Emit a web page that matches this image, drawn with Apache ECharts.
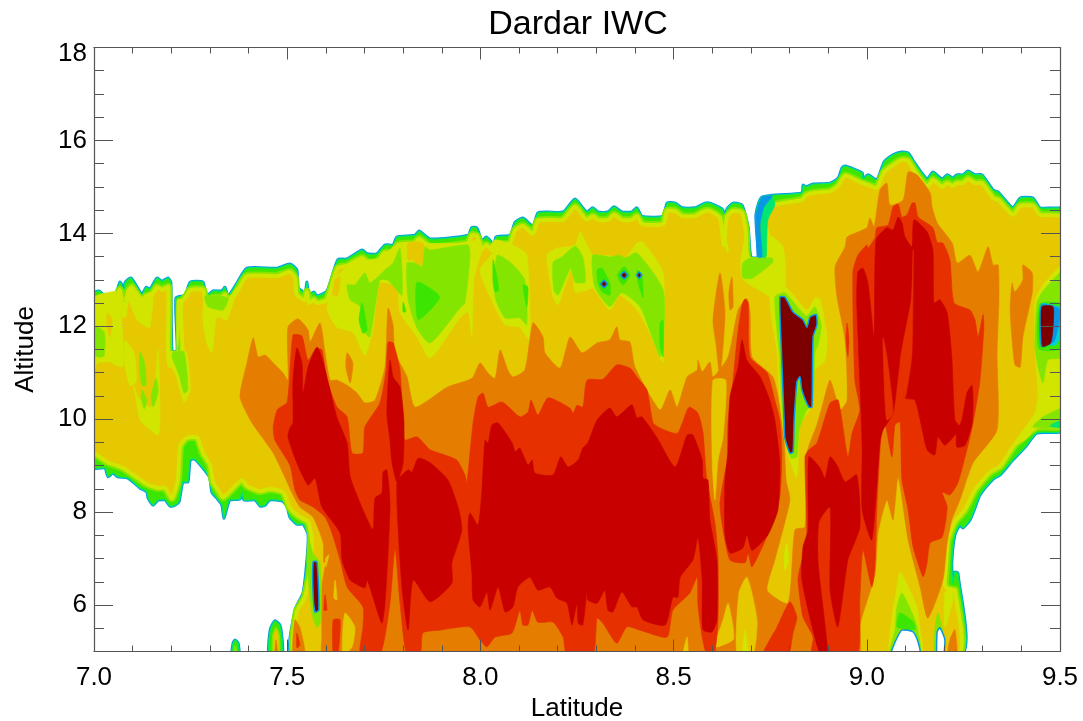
<!DOCTYPE html>
<html>
<head>
<meta charset="utf-8">
<title>Dardar IWC</title>
<script src="https://cdn.jsdelivr.net/npm/echarts@6/dist/echarts.min.js"></script>
<style>html,body{margin:0;padding:0;background:#fff}#c{width:1083px;height:721px;filter:blur(0.45px)}</style>
</head>
<body>
<div id="c"></div>
<script>
// Axis values
const xMajor = [7.0, 7.5, 8.0, 8.5, 9.0, 9.5];
const xMinor = [7.1,7.2,7.3,7.4,7.6,7.7,7.8,7.9,8.1,8.2,8.3,8.4,8.6,8.7,8.8,8.9,9.1,9.2,9.3,9.4];
const yMajor = [6, 8, 10, 12, 14, 16, 18];
const yMinor = [5.5,6.5,7,7.5,8.5,9,9.5,10.5,11,11.5,12.5,13,13.5,14.5,15,15.5,16.5,17,17.5];

// Contour regions as [latitude, altitude] outlines
const cloudEnvelope = [
[[6.99,12.67],[7.013,12.76],[7.028,12.65],[7.054,12.65],[7.067,12.95],[7.072,12.89],[7.075,12.37],[7.08,12.93],[7.096,13.04],[7.124,12.69],[7.135,12.84],[7.145,12.8],[7.163,13.04],[7.176,12.97],[7.192,13.04],[7.199,12.93],[7.202,11.47],[7.215,11.47],[7.212,12.61],[7.236,12.67],[7.249,12.95],[7.282,12.95],[7.29,12.65],[7.308,12.76],[7.331,12.76],[7.339,12.84],[7.347,12.65],[7.37,12.93],[7.396,13.25],[7.474,13.25],[7.507,13.34],[7.525,13.21],[7.528,12.84],[7.546,12.72],[7.551,12.95],[7.556,12.67],[7.569,12.74],[7.577,12.65],[7.603,12.76],[7.631,13.43],[7.655,13.45],[7.694,13.64],[7.707,13.56],[7.732,13.56],[7.753,13.75],[7.774,13.75],[7.784,13.92],[7.831,13.96],[7.841,14.05],[7.87,13.88],[7.968,13.96],[7.978,14.13],[7.991,14.11],[8.004,13.84],[8.015,13.92],[8.03,13.79],[8.035,13.58],[8.04,13.92],[8.077,13.96],[8.09,14.24],[8.11,14.33],[8.136,14.16],[8.149,14.44],[8.175,14.46],[8.214,14.46],[8.245,14.74],[8.265,14.55],[8.276,14.46],[8.291,14.55],[8.304,14.46],[8.33,14.46],[8.346,14.57],[8.366,14.46],[8.392,14.46],[8.405,14.55],[8.418,14.37],[8.473,14.37],[8.483,14.65],[8.504,14.65],[8.522,14.55],[8.555,14.55],[8.581,14.65],[8.594,14.65],[8.628,14.5],[8.63,14.07],[8.638,14.52],[8.654,14.65],[8.677,14.61],[8.693,14.13],[8.7,13.49],[8.718,13.49],[8.713,14.4],[8.729,14.78],[8.832,14.87],[8.835,15.04],[8.843,15],[8.861,15.06],[8.905,15.08],[8.926,15.19],[8.936,15.41],[8.944,15.45],[8.988,15.3],[8.99,15.17],[9.003,15.26],[9.026,15.15],[9.045,15.54],[9.068,15.69],[9.091,15.75],[9.107,15.73],[9.122,15.54],[9.156,15.17],[9.171,15.32],[9.195,15.17],[9.208,15.26],[9.223,15.19],[9.233,15.26],[9.249,15.26],[9.262,15.34],[9.28,15.26],[9.298,15.26],[9.327,14.93],[9.34,14.89],[9.378,14.55],[9.397,14.76],[9.43,14.76],[9.448,14.55],[9.51,14.5],[9.51,9.77],[9.44,9.7],[9.41,9.4],[9.378,9.12],[9.345,8.8],[9.327,8.71],[9.293,8.37],[9.28,8.09],[9.267,7.83],[9.249,7.66],[9.241,7.72],[9.228,7.51],[9.22,6.9],[9.223,6.47],[9.228,6.71],[9.236,6.69],[9.241,4.92],[7.515,4.92],[7.52,5.89],[7.541,6.26],[7.551,6.97],[7.554,7.51],[7.541,7.74],[7.525,7.74],[7.507,7.89],[7.5,8.11],[7.487,8.24],[7.455,8.26],[7.443,8.15],[7.43,8.13],[7.417,8.26],[7.388,8.26],[7.383,8.43],[7.378,8.28],[7.352,8.26],[7.344,8.09],[7.336,7.87],[7.331,8.15],[7.318,8.3],[7.305,8.43],[7.3,8.73],[7.292,8.84],[7.261,9.14],[7.249,9.12],[7.243,8.65],[7.23,8.65],[7.22,8.22],[7.21,8.15],[7.197,8.13],[7.184,8.26],[7.166,8.26],[7.153,8.15],[7.14,8.3],[7.137,8.43],[7.119,8.52],[7.088,8.73],[7.062,8.76],[7.049,8.84],[7.036,8.76],[7.028,8.95],[6.99,8.95]],
[[7.453,4.92],[7.456,5.47],[7.468,5.66],[7.481,5.57],[7.487,5.25],[7.487,4.92]],
[[7.357,4.92],[7.36,5.18],[7.365,5.25],[7.373,5.18],[7.375,4.92]]
];
const yellowCore = [
[[6.99,12.52],[7.028,12.5],[7.054,12.52],[7.067,12.78],[7.078,12.22],[7.088,12.74],[7.098,12.84],[7.124,12.52],[7.135,12.65],[7.145,12.61],[7.163,12.84],[7.176,12.78],[7.192,12.84],[7.194,11.17],[7.228,11.17],[7.225,12.48],[7.241,12.67],[7.249,12.78],[7.282,12.78],[7.29,12.46],[7.308,12.61],[7.331,12.61],[7.339,12.67],[7.347,12.48],[7.37,12.74],[7.396,13.08],[7.474,13.08],[7.507,13.17],[7.52,13.04],[7.525,12.67],[7.546,12.57],[7.551,12.74],[7.556,12.5],[7.569,12.57],[7.577,12.5],[7.603,12.57],[7.631,13.25],[7.655,13.3],[7.694,13.47],[7.707,13.38],[7.732,13.38],[7.753,13.58],[7.774,13.58],[7.787,13.75],[7.831,13.79],[7.841,13.88],[7.87,13.71],[7.968,13.79],[7.978,13.96],[7.991,13.94],[8.004,13.66],[8.015,13.75],[8.033,13.62],[8.043,13.75],[8.077,13.79],[8.09,14.07],[8.11,14.16],[8.136,13.99],[8.149,14.27],[8.175,14.29],[8.214,14.29],[8.245,14.57],[8.265,14.37],[8.276,14.29],[8.291,14.37],[8.304,14.29],[8.33,14.29],[8.346,14.4],[8.366,14.29],[8.392,14.29],[8.405,14.37],[8.418,14.2],[8.473,14.2],[8.483,14.48],[8.504,14.48],[8.522,14.37],[8.555,14.37],[8.581,14.48],[8.594,14.48],[8.62,14.33],[8.63,13.75],[8.638,14.35],[8.654,14.48],[8.677,14.44],[8.687,14.03],[8.693,13.38],[8.744,13.38],[8.744,13.96],[8.734,14.4],[8.762,14.61],[8.832,14.72],[8.843,14.82],[8.861,14.87],[8.905,14.91],[8.926,15.02],[8.944,15.24],[8.988,15.08],[9.003,15.04],[9.026,14.98],[9.045,15.32],[9.068,15.47],[9.091,15.58],[9.107,15.56],[9.122,15.36],[9.156,15],[9.171,15.15],[9.195,15],[9.208,15.08],[9.223,15.02],[9.233,15.08],[9.249,15.08],[9.262,15.17],[9.28,15.08],[9.298,15.08],[9.327,14.76],[9.34,14.72],[9.378,14.4],[9.397,14.59],[9.43,14.59],[9.448,14.4],[9.51,14.33],[9.51,9.88],[9.44,9.83],[9.383,9.45],[9.345,8.99],[9.319,8.86],[9.28,8.48],[9.254,8.05],[9.228,7.79],[9.21,7.4],[9.205,6.86],[9.202,6.43],[9.215,6.32],[9.228,6.32],[9.233,4.92],[7.525,4.92],[7.525,5.85],[7.546,6.17],[7.562,6.86],[7.564,7.4],[7.554,7.79],[7.528,7.92],[7.507,8.09],[7.489,8.43],[7.455,8.5],[7.43,8.45],[7.396,8.56],[7.383,8.69],[7.36,8.52],[7.334,8.32],[7.321,8.48],[7.308,8.65],[7.3,9.02],[7.282,9.27],[7.267,9.6],[7.241,9.6],[7.223,9.42],[7.217,8.69],[7.202,8.3],[7.184,8.52],[7.166,8.52],[7.137,8.6],[7.114,8.73],[7.075,8.95],[7.034,9.08],[6.997,9.29],[6.99,9.29]]
];
const smallLobesYellow = [
[[7.463,4.92],[7.463,5.36],[7.471,5.51],[7.479,5.36],[7.479,4.92]],
[[7.362,4.92],[7.365,5.12],[7.37,4.92]]
];
const limeZones = [
[[6.99,12.57],[7.062,12.74],[7.072,12.14],[7.075,11.13],[7.054,11.17],[7.041,11.23],[7.01,11.21],[6.99,10.91]],
[[7.075,12.57],[7.101,12.84],[7.124,12.63],[7.145,12.74],[7.153,12.63],[7.145,11.98],[7.137,11.98],[7.111,12.14],[7.085,12.63]],
[[7.08,11.7],[7.104,11.42],[7.109,10.8],[7.093,10.73],[7.08,11.17]],
[[7.098,10.84],[7.114,10.48],[7.15,10.26],[7.166,11.49],[7.171,9.98],[7.166,9.66],[7.14,9.81],[7.119,9.98],[7.106,10.56]],
[[7.197,11.45],[7.238,11.45],[7.249,10.63],[7.233,10.37],[7.212,10.95],[7.194,11.27]],
[[7.215,12.57],[7.228,12.57],[7.215,11.45]],
[[7.287,12.61],[7.347,12.61],[7.37,12.84],[7.344,12.14],[7.318,12.2],[7.305,11.43],[7.292,11.64],[7.282,12.14]],
[[7.603,12.39],[7.631,13.1],[7.675,13.38],[7.74,13.47],[7.784,13.75],[7.968,13.79],[7.991,13.86],[8.004,13.64],[7.994,13.38],[7.983,13],[7.978,11.77],[7.968,12.31],[7.947,12.18],[7.87,11.32],[7.836,11.77],[7.792,12.29],[7.784,12.84],[7.74,12.93],[7.722,11.92],[7.701,11.38],[7.67,11.87],[7.629,11.98]],
[[8.025,13.71],[8.038,13.86],[8.084,13.75],[8.12,13.53],[8.128,11.7],[8.102,11.98],[8.064,12.03],[8.025,12.63],[7.999,13.21],[8.033,13.6]],
[[8.172,13.53],[8.198,13.68],[8.245,13.75],[8.258,14.03],[8.291,13.53],[8.328,13.53],[8.374,13.47],[8.405,13.79],[8.421,13.81],[8.473,13.15],[8.473,11.23],[8.465,11.32],[8.431,11.98],[8.405,12.35],[8.361,12.67],[8.335,12.35],[8.291,12.82],[8.276,12.78],[8.245,12.74],[8.237,13.25],[8.201,12.46],[8.188,12.63]],
[[8.628,14.07],[8.643,13.64],[8.638,13.6]],
[[8.685,13.86],[8.698,13.49],[8.749,13.53],[8.747,13.96],[8.783,13.71],[8.788,12.85],[8.755,12.63],[8.729,12.74],[8.698,12.89],[8.677,13.04],[8.674,13.43]]
];
const yellowInLime = [
[[7.034,12.29],[7.047,12.14],[7.041,11.77],[7.034,11.98]],
[[7.624,13],[7.637,13.06],[7.631,12.67],[7.618,12.67]],
[[7.813,13.79],[7.851,13.79],[7.854,13.43],[7.841,13.28],[7.826,13.43],[7.813,13.43]]
];
const greenZones = [
[[6.99,12.03],[7.026,11.88],[7.026,11.36],[7.01,11.34],[6.99,11.49]],
[[7.119,11.45],[7.13,11.24],[7.135,10.73],[7.124,10.73],[7.117,11.13]],
[[7.124,10.63],[7.137,10.41],[7.13,10.22],[7.122,10.45]],
[[7.161,10.88],[7.166,10.58],[7.153,10.26],[7.148,10.5]],
[[7.205,11.45],[7.233,11.45],[7.243,10.63],[7.233,10.56],[7.22,10.95],[7.202,11.34]],
[[7.287,12.65],[7.347,12.61],[7.334,12.35],[7.295,12.42]],
[[7.655,12.89],[7.675,12.89],[7.701,13.15],[7.714,12.93],[7.753,13.21],[7.774,13.36],[7.792,13.68],[7.797,12.67],[7.761,12.99],[7.74,12.99],[7.714,11.77],[7.696,11.92],[7.689,12.42],[7.663,12.57]],
[[7.81,13.36],[7.831,13.36],[7.849,13.28],[7.857,13.71],[7.87,13.64],[7.968,13.75],[7.973,13.49],[7.96,12.5],[7.947,12.39],[7.87,11.64],[7.836,11.96],[7.813,12.57]],
[[8.043,13.53],[8.077,13.38],[8.115,13],[8.12,12.03],[8.102,12.18],[8.064,12.18],[8.038,12.63]],
[[8.188,13.38],[8.211,13.49],[8.245,13.73],[8.265,13.49],[8.271,12.95],[8.245,12.95],[8.234,13.25],[8.201,12.67],[8.19,12.78]],
[[8.291,13.53],[8.335,13.49],[8.361,13.53],[8.374,13.47],[8.405,13.58],[8.473,12.78],[8.473,11.56],[8.465,11.34],[8.447,11.71],[8.413,12.42],[8.366,12.72],[8.335,12.42],[8.296,12.85]],
[[8.698,13.47],[8.755,13.47],[8.757,13.38],[8.705,13.04],[8.679,13.04],[8.679,13.36]]
];
const brightZones = [
[[7.694,12.5],[7.707,11.92],[7.696,11.85],[7.686,12.14]],
[[7.836,12.95],[7.895,12.63],[7.839,12.14]],
[[7.8,12.52],[7.807,12.31],[7.8,12.31]],
[[8.11,12.89],[8.123,12.85],[8.12,12.42]],
[[8.033,13.43],[8.048,12.78],[8.038,12.74],[8.033,12.93]],
[[8.302,13.21],[8.315,13.25],[8.335,12.93],[8.335,12.67],[8.315,12.74],[8.304,12.93]],
[[8.354,13.1],[8.372,13.28],[8.387,13.1],[8.369,12.89]],
[[8.405,13.21],[8.418,13.1],[8.421,12.61],[8.408,12.93]],
[[8.465,12.07],[8.473,12.14],[8.473,11.34],[8.465,11.56]]
];
const notchSpring = [[[8.729,14.78],[8.755,14.8],[8.762,14.61],[8.744,14.29],[8.739,13.49],[8.729,13.49]]];
const notchBlue = [[[8.729,14.78],[8.755,14.8],[8.734,14.57],[8.724,14.18],[8.729,13.49],[8.718,13.49],[8.713,14.4]]];
const orangeMain = [
[[7.412,11.75],[7.425,11.34],[7.443,11.38],[7.464,11.21],[7.489,11],[7.502,10.84],[7.502,11.98],[7.528,12.16],[7.554,11.92],[7.559,11.66],[7.585,12.07],[7.598,11.43],[7.611,10.84],[7.629,10.84],[7.655,10.73],[7.681,10.56],[7.701,10.35],[7.727,10.41],[7.753,11.12],[7.761,12.39],[7.774,12.03],[7.779,11.43],[7.81,10.91],[7.831,10.26],[7.914,10.69],[7.978,10.88],[7.999,11.21],[8.02,10.99],[8.038,10.88],[8.051,11.49],[8.071,11.06],[8.084,10.91],[8.115,11.06],[8.136,12.07],[8.162,11.77],[8.167,11.43],[8.206,11.1],[8.232,11.77],[8.263,11.43],[8.302,11.64],[8.335,11.71],[8.353,11.99],[8.361,11.71],[8.387,11.66],[8.4,11.12],[8.465,10.2],[8.491,10.63],[8.509,10.26],[8.535,10.91],[8.561,11.06],[8.563,11.27],[8.574,11.02],[8.594,11.23],[8.602,10.91],[8.641,11.34],[8.667,12.35],[8.69,12.59],[8.698,12.29],[8.703,11.34],[8.757,10.91],[8.775,10.26],[8.786,9.55],[8.791,8.69],[8.801,8.26],[8.762,6.97],[8.742,6.32],[8.796,6.04],[8.814,7.62],[8.84,7.68],[8.845,9.27],[8.871,9.88],[8.887,10.35],[8.905,10.84],[8.931,10.2],[8.949,10.41],[8.944,11.7],[8.923,12.63],[8.918,13.28],[8.944,13.71],[8.949,13.92],[9,14.12],[9.008,14.33],[9.019,14.14],[9.034,14.93],[9.052,15.08],[9.06,14.61],[9.094,14.72],[9.107,15.32],[9.13,15.26],[9.164,14.87],[9.169,14.57],[9.182,14.23],[9.221,13.79],[9.234,13.36],[9.267,13.53],[9.288,13.17],[9.314,13.71],[9.327,13.32],[9.34,13.32],[9.342,12.57],[9.337,11.43],[9.337,9.77],[9.275,9.06],[9.241,8.26],[9.22,7.83],[9.208,7.34],[9.197,6.54],[9.158,5.72],[9.138,6.39],[9.107,7.4],[9.081,8.76],[9.068,7.83],[9.052,8.26],[9.029,7.55],[9.021,6.65],[8.982,5.57],[8.977,4.92],[7.593,4.92],[7.59,5.31],[7.59,6.39],[7.598,6.82],[7.606,7.03],[7.595,6.91],[7.593,7.34],[7.567,7.89],[7.533,8.11],[7.515,8.37],[7.464,9.27],[7.409,9.92],[7.378,10.48],[7.396,11.21]]
];
const orangePatches = [
[[8.62,13.15],[8.602,12.14],[8.61,11.6],[8.62,10.91],[8.633,12.29]],
[[8.651,13.06],[8.654,12.42],[8.646,12.35],[8.643,12.72]],
[[9.376,12.93],[9.383,12.74],[9.404,13],[9.404,13.32],[9.428,13.15],[9.428,12.72],[9.404,11.77],[9.397,11.12],[9.383,11.17],[9.371,12.35]],
[[7.655,11.43],[7.67,11.21],[7.663,10.78],[7.652,11.12]],
[[7.52,5.68],[7.533,5.51],[7.546,4.92],[7.515,4.92]],
[[7.468,4.92],[7.471,5.25],[7.476,4.92]],
[[9.215,5.25],[9.228,5.47],[9.233,4.92],[9.21,4.92]]
];
const yellowInOrange = [
[[8.602,10.84],[8.635,10.84],[8.628,9.62],[8.615,9.12],[8.607,8.26],[8.6,9.06]],
[[8.641,6.04],[8.654,5.53],[8.654,5.25],[8.607,5.1],[8.628,5.68]],
[[8.69,6.6],[8.716,5.68],[8.705,4.92],[8.664,4.92],[8.669,6.26]],
[[8.535,5.31],[8.537,4.92],[8.524,4.92]],
[[7.624,6.54],[7.629,6.11],[7.621,6.15]],
[[7.65,5.83],[7.675,5.53],[7.668,5.1],[7.644,4.92],[7.644,5.46]],
[[7.722,5.62],[7.735,5.31],[7.714,5.1]],
[[7.6,7.01],[7.608,7.08],[7.6,6.82]]
];
const limeLower = [
[[8.685,5.47],[8.693,4.92],[8.679,4.92]],
[[8.793,7.34],[8.798,6.97],[8.788,6.76],[8.786,7.04]],
[[9.06,4.92],[9.065,5.74],[9.078,6.39],[9.086,6.71],[9.107,6.39],[9.13,5.96],[9.138,5.47],[9.143,4.92]],
[[9.202,6.26],[9.22,6.39],[9.223,6.11],[9.202,5.53]]
];
const greenLower = [
[[9.06,4.92],[9.073,5.46],[9.078,5.96],[9.091,6.26],[9.117,5.83],[9.13,5.53],[9.138,4.92]],
[[9.176,5.47],[9.184,5.83],[9.202,5.25],[9.197,4.92],[9.176,4.92]]
];
const brightLower = [[[9.078,5.53],[9.086,5.83],[9.12,5.64],[9.125,5.47]]];
const redOrangeZones = [
[[7.515,11.81],[7.538,11.79],[7.554,11.27],[7.575,11.53],[7.59,11.49],[7.603,10.84],[7.629,10.26],[7.655,10.05],[7.668,9.27],[7.696,9.27],[7.701,9.83],[7.74,10.35],[7.756,11.06],[7.761,11.66],[7.774,11.64],[7.792,11.06],[7.8,9.77],[7.805,9.55],[7.836,9.62],[7.87,9.34],[7.908,9.23],[7.939,9.12],[7.96,8.8],[7.965,8.63],[7.981,9.92],[7.994,10.48],[8.007,10.56],[8.02,10.26],[8.056,10.37],[8.102,10.05],[8.123,10.15],[8.131,10.41],[8.149,10.09],[8.175,10.46],[8.232,10.24],[8.24,10.13],[8.25,10.3],[8.265,10.26],[8.276,10.84],[8.317,10.86],[8.353,11.17],[8.387,11.1],[8.405,10.91],[8.431,10.63],[8.447,9.92],[8.465,9.81],[8.491,9.72],[8.511,9.7],[8.535,10.2],[8.542,10.26],[8.563,10.13],[8.576,9.72],[8.586,8.69],[8.607,7.77],[8.615,6.97],[8.615,5.68],[8.605,4.92],[8.586,4.92],[8.574,5.31],[8.563,6],[8.561,6.6],[8.542,6.26],[8.498,5.89],[8.483,5.31],[8.413,5.46],[8.379,5.53],[8.353,5.18],[8.317,5.61],[8.302,5.72],[8.291,4.92],[8.224,4.92],[8.214,5.31],[8.188,5.63],[8.149,5.63],[8.134,5.89],[8.123,5.57],[8.11,5.57],[8.102,5.89],[8.082,5.4],[8.038,5.31],[8.017,5.1],[7.999,5.25],[7.973,5.53],[7.895,5.46],[7.851,5.4],[7.844,4.92],[7.81,4.92],[7.792,6.04],[7.779,7.23],[7.766,6.04],[7.74,4.92],[7.689,4.92],[7.696,5.53],[7.696,5.96],[7.655,6.39],[7.637,6.97],[7.616,7.55],[7.598,7.89],[7.567,8.11],[7.533,8.26],[7.52,8.48],[7.507,9.01],[7.468,9.55],[7.464,9.83],[7.474,10.2],[7.5,10.37]],
[[8.641,9.98],[8.654,10.84],[8.664,11.71],[8.677,12.46],[8.685,12.59],[8.693,12.5],[8.698,11.34],[8.742,11],[8.762,10.41],[8.775,9.98],[8.78,9.27],[8.775,8.33],[8.749,7.62],[8.703,6.82],[8.693,7.12],[8.685,6.91],[8.646,6.97],[8.625,7.77],[8.62,8.2],[8.638,9.12]],
[[8.964,13.17],[8.977,13.53],[9,13.75],[9.003,13.68],[9.021,13.9],[9.026,14.12],[9.055,14.18],[9.068,14.57],[9.081,14.63],[9.091,14.35],[9.104,14.4],[9.117,14.65],[9.125,14.65],[9.133,14.35],[9.171,14.12],[9.182,13.81],[9.197,13.79],[9.215,13.43],[9.226,12.5],[9.267,12.35],[9.28,12.14],[9.288,11.77],[9.301,12.25],[9.303,11.98],[9.293,10.84],[9.275,9.92],[9.259,9.34],[9.236,8.63],[9.215,8.37],[9.195,8.43],[9.208,8.11],[9.195,7.46],[9.164,7.34],[9.156,6.91],[9.146,6.61],[9.12,7.25],[9.107,8.05],[9.091,8.69],[9.086,9.94],[9.073,9.88],[9.065,9.19],[9.042,10.09],[9.026,8.05],[9.021,6.82],[9.013,6.39],[8.99,7.18],[8.982,6.11],[8.974,4.92],[8.858,4.92],[8.861,5.31],[8.835,5.74],[8.822,6.54],[8.83,6.9],[8.845,7.25],[8.84,9.19],[8.85,9.34],[8.871,9.49],[8.905,10.35],[8.926,10.41],[8.951,9.19],[8.962,9.7],[8.982,10.2],[8.969,10.84]],
[[8.731,4.92],[8.768,5.53],[8.801,6.07],[8.819,5.74],[8.809,5.4],[8.796,4.92]],
[[7.525,5.4],[7.533,5.14],[7.525,5.08]],
[[7.619,5.68],[7.637,5.68],[7.631,4.92],[7.619,4.92]],
[[7.598,6.22],[7.603,5.89],[7.595,5.89]],
[[8.949,12.07],[8.954,11.71],[8.951,11.34],[8.946,11.71]]
];
const redZones = [
[[7.515,9.92],[7.515,10.84],[7.525,11.53],[7.538,11.21],[7.541,10.56],[7.554,11.12],[7.577,11.55],[7.59,11.32],[7.611,10.63],[7.629,10.03],[7.655,9.49],[7.663,8.76],[7.696,8.05],[7.722,7.62],[7.727,8.3],[7.745,8.41],[7.748,8.86],[7.758,8.91],[7.766,8.2],[7.761,7.12],[7.753,6.04],[7.745,5.61],[7.722,6.17],[7.707,6.54],[7.701,6.37],[7.663,6.54],[7.642,6.97],[7.637,7.55],[7.59,8.11],[7.572,8.73],[7.554,8.58],[7.525,9.06],[7.502,9.62],[7.507,9.81]],
[[7.758,10.13],[7.766,11.27],[7.774,10.91],[7.792,10.69],[7.802,9.98],[7.8,9.06],[7.784,8.65],[7.771,9.08],[7.766,9.55]],
[[7.784,8.65],[7.813,8.91],[7.823,8.86],[7.839,9.16],[7.87,9.06],[7.916,8.69],[7.942,8.11],[7.952,7.62],[7.926,6.9],[7.926,6.47],[7.87,6.07],[7.826,6.54],[7.813,5.46],[7.797,6.39]],
[[7.973,7.98],[7.994,7.72],[8.004,8.47],[8.012,9.55],[8.02,9.49],[8.03,9.88],[8.046,9.92],[8.082,9.49],[8.09,9.3],[8.102,9.38],[8.123,9.01],[8.134,9.12],[8.141,8.84],[8.188,8.8],[8.208,9.19],[8.227,8.97],[8.253,9.12],[8.265,9.38],[8.278,9.49],[8.302,9.98],[8.335,10.24],[8.353,10.05],[8.392,10.31],[8.405,10.03],[8.418,10.05],[8.457,9.6],[8.504,8.97],[8.535,9.66],[8.55,9.66],[8.574,9.12],[8.576,8.73],[8.589,8.69],[8.594,7.83],[8.612,6.97],[8.612,5.68],[8.599,5.42],[8.576,5.47],[8.574,6.54],[8.563,7.46],[8.55,6.97],[8.517,6.6],[8.511,6.17],[8.498,6.17],[8.478,5.57],[8.421,5.68],[8.405,5.96],[8.392,5.96],[8.366,6.28],[8.343,5.85],[8.33,5.89],[8.322,6.32],[8.302,6.04],[8.278,6.11],[8.276,6.32],[8.265,5.57],[8.253,5.61],[8.25,6.04],[8.237,5.57],[8.224,6.04],[8.198,6.15],[8.18,6.39],[8.149,6.32],[8.128,6.6],[8.097,6.39],[8.084,5.96],[8.064,5.85],[8.046,6.39],[8.025,5.89],[8.017,6.28],[7.999,5.96],[7.981,6.11],[7.978,6.69],[7.968,7.68]],
[[8.646,10.48],[8.667,11.12],[8.677,11.71],[8.69,11.27],[8.724,10.91],[8.749,10.41],[8.762,9.98],[8.775,9.06],[8.77,8.05],[8.744,7.51],[8.703,7.18],[8.69,7.51],[8.679,7.23],[8.646,7.12],[8.633,7.51],[8.633,8.69],[8.641,9.27]],
[[8.977,13.17],[8.99,13.25],[9.003,12.93],[9.019,11.77],[9.024,13.86],[9.052,14.12],[9.068,14.07],[9.081,14.35],[9.091,14.23],[9.099,13.92],[9.117,13.71],[9.122,14.29],[9.156,14.03],[9.171,13.64],[9.174,12.5],[9.189,12.57],[9.208,12.29],[9.22,11.34],[9.228,9.98],[9.241,9.81],[9.202,9.44],[9.184,9.62],[9.176,9.23],[9.156,9.34],[9.125,10.41],[9.099,10.46],[9.086,11.21],[9.068,10.13],[9.042,9.77],[9.034,9.49],[9.013,7.4],[8.988,8.05],[8.988,9.4],[8.982,10.84],[8.974,12.57]],
[[9.259,10.56],[9.272,10.73],[9.275,10.35],[9.272,9.88],[9.254,9.44],[9.233,9.4],[9.233,9.72],[9.246,9.98]],
[[8.85,9.19],[8.879,8.95],[8.892,8.73],[8.905,9.19],[8.923,9.01],[8.944,8.65],[8.974,8.8],[8.982,7.68],[8.951,6.97],[8.925,5.53],[8.905,6.32],[8.905,8.11],[8.876,7.79],[8.874,6.9],[8.899,4.92],[8.879,4.92],[8.832,6.54],[8.835,7.25],[8.848,7.62]]
];
const redOrangeWedges = [
[[9.042,11.75],[9.052,11.34],[9.068,10.13],[9.052,9.98],[9.047,10.41]],
[[9.086,11.21],[9.099,10.46],[9.117,11.43],[9.12,13.64],[9.115,12.57]]
];
const limeEast = [
[[8.749,12.63],[8.788,12.85],[8.845,12.35],[8.866,12.61],[8.879,12.57],[8.897,11.77],[8.892,11.27],[8.861,11],[8.861,10.35],[8.848,10.14],[8.827,9.88],[8.819,8.76],[8.796,9.23],[8.786,9.62],[8.775,10.41],[8.768,11.43]],
[[9.51,13.32],[9.466,13],[9.443,12.72],[9.435,12.5],[9.435,11.56],[9.44,10.91],[9.443,10.56],[9.435,10.13],[9.378,9.45],[9.41,9.55],[9.44,9.81],[9.51,9.86]]
];
const greenEast = [
[[8.762,12.63],[8.788,12.72],[8.843,12.22],[8.866,12.42],[8.882,12.03],[8.874,11.6],[8.866,11.45],[8.861,10.3],[8.845,10.2],[8.825,9.77],[8.819,9.19],[8.804,9.16],[8.788,9.55],[8.78,10.3],[8.773,11.43]],
[[9.474,12.93],[9.51,13.21],[9.51,11.34],[9.469,11.28],[9.456,10.78],[9.443,11.13],[9.435,11.56],[9.44,12.5],[9.453,12.72]],
[[9.51,10.24],[9.456,10.05],[9.43,9.83],[9.51,9.84]],
[[7.554,7.47],[7.567,7.12],[7.585,6.9],[7.587,5.68],[7.577,5.51],[7.564,5.83],[7.551,6.9]]
];
const brightEast = [[[9.448,12.48],[9.51,12.46],[9.51,11.54],[9.446,11.51]]];
const springEast = [[[9.51,9.99],[9.474,9.86],[9.51,9.81]]];
const cyanEast = [[[9.451,12.48],[9.497,12.42],[9.51,12.4],[9.51,11.92],[9.489,11.6],[9.474,11.6]]];
const blueEast = [
[[9.451,12.46],[9.497,12.38],[9.497,12.07],[9.484,11.67],[9.451,11.56]],
[[8.31,12.91],[8.32,13],[8.33,12.91],[8.32,12.82]],
[[8.362,13.1],[8.372,13.19],[8.382,13.1],[8.372,13.01]],
[[8.403,13.1],[8.411,13.18],[8.419,13.1],[8.411,13.02]]
];
const darkZones = [
[[9.453,12.42],[9.482,12.42],[9.482,11.98],[9.476,11.64],[9.456,11.56],[9.453,11.64]],
[[8.315,12.91],[8.32,12.96],[8.325,12.91],[8.32,12.86]],
[[8.367,13.1],[8.372,13.15],[8.377,13.1],[8.372,13.05]],
[[8.408,13.1],[8.411,13.14],[8.414,13.1],[8.411,13.06]]
];
const darkCores = [
[[8.775,12.63],[8.788,12.63],[8.809,12.31],[8.835,12.14],[8.845,11.98],[8.853,12.2],[8.869,12.25],[8.871,12.03],[8.861,11.77],[8.858,10.26],[8.85,10.26],[8.832,10.63],[8.827,10.91],[8.819,10.8],[8.812,9.98],[8.809,9.29],[8.801,9.27],[8.788,9.59],[8.786,9.98],[8.78,11.27]],
[[7.567,6.93],[7.577,6.93],[7.582,5.89],[7.572,5.85],[7.567,6.26]]
];
const clearHoles = [
[[9.06,4.86],[9.065,5.03],[9.078,5.29],[9.091,5.46],[9.12,5.42],[9.133,5.2],[9.138,4.86]],
[[9.182,4.86],[9.182,5.42],[9.189,5.51],[9.202,5.25],[9.197,4.86]]
];

const YELLOW='#e5c800', LIME='#d2e500', GREEN='#84e600', BRIGHT='#3ce600', SPRING='#00e673',
      CYAN='#00d0d8', BLUE='#0a96e6', ORANGE='#e57e00', REDORANGE='#e63000', RED='#c80000', DARK='#7d0000';

const layers = [
  {polys: cloudEnvelope, fill: BLUE, stroke: BLUE, width: 3},
  {polys: cloudEnvelope, fill: BRIGHT, stroke: SPRING, width: 1.2},
  {polys: yellowCore, fill: GREEN, stroke: GREEN, width: 8},
  {polys: yellowCore, fill: YELLOW, stroke: LIME, width: 4},
  {polys: smallLobesYellow, fill: YELLOW, stroke: GREEN, width: 1.5},
  {polys: limeZones, fill: LIME},
  {polys: yellowInLime, fill: YELLOW},
  {polys: greenZones, fill: GREEN},
  {polys: brightZones, fill: BRIGHT},
  {polys: notchSpring, fill: SPRING},
  {polys: notchBlue, fill: BLUE},
  {polys: orangeMain, fill: ORANGE},
  {polys: orangePatches, fill: ORANGE},
  {polys: yellowInOrange, fill: YELLOW},
  {polys: limeLower, fill: LIME},
  {polys: greenLower, fill: GREEN},
  {polys: brightLower, fill: BRIGHT},
  {polys: redOrangeZones, fill: REDORANGE},
  {polys: redZones, fill: RED},
  {polys: redOrangeWedges, fill: REDORANGE},
  {polys: limeEast, fill: LIME},
  {polys: greenEast, fill: GREEN},
  {polys: brightEast, fill: BRIGHT},
  {polys: springEast, fill: SPRING},
  {polys: cyanEast, fill: CYAN},
  {polys: blueEast, fill: BLUE},
  {polys: darkZones, fill: DARK},
  {polys: darkCores, fill: DARK, stroke: BLUE, width: 1.5},
  {polys: clearHoles, fill: '#ffffff', stroke: BLUE, width: 1.5}
];

const series = [];
layers.forEach(layer => {
  layer.polys.forEach(points => {
    series.push({
      type: 'custom',
      coordinateSystem: 'cartesian2d',
      xAxisIndex: 0,
      yAxisIndex: 0,
      clip: true,
      silent: true,
      animation: false,
      encode: {x: 0, y: 1},
      data: points,
      renderItem: function (params, api) {
        if (params.dataIndex !== 0) return null;
        return {
          type: 'polygon',
          shape: {points: points.map(p => api.coord(p)), smooth: 0.2},
          style: {
            fill: layer.fill,
            stroke: layer.stroke || layer.fill,
            lineWidth: layer.stroke ? layer.width : 0.6,
            lineJoin: 'round'
          }
        };
      }
    });
  });
});

const FONT = '"Liberation Sans", Arial, sans-serif';
const AXIS = '#555555';
const baseX = {type: 'value', min: 7, max: 9.5, interval: 0.5, z: 10, splitLine: {show: false},
  axisLine: {show: true, onZero: false, lineStyle: {color: AXIS, width: 1.2}}};
const baseY = {type: 'value', min: 5, max: 18, z: 10, splitLine: {show: false},
  axisLine: {show: true, onZero: false, lineStyle: {color: AXIS, width: 1.2}}};
const tick = (len, values) => ({show: true, inside: true, length: len, customValues: values, lineStyle: {color: AXIS, width: 1}});

const option = {
  backgroundColor: '#ffffff',
  animation: false,
  title: {text: 'Dardar IWC', left: 573, top: 3, textAlign: 'center',
    textStyle: {color: '#000', fontFamily: FONT, fontSize: 34, fontWeight: 'normal'}},
  grid: {left: 94, top: 47.5, width: 966, height: 604, containLabel: false, outerBoundsMode: 'none'},
  xAxis: [
    Object.assign({}, baseX, {position: 'bottom', name: 'Latitude', nameLocation: 'middle', nameGap: 44,
      nameTextStyle: {color: '#000', fontFamily: FONT, fontSize: 26},
      axisTick: tick(12, xMajor),
      axisLabel: {show: true, margin: 13, color: '#000', fontFamily: FONT, fontSize: 26, customValues: xMajor,
        formatter: v => Number(v).toFixed(1)}}),
    Object.assign({}, baseX, {position: 'bottom', axisLine: {show: false}, axisTick: tick(6, xMinor), axisLabel: {show: false}}),
    Object.assign({}, baseX, {position: 'top', axisTick: tick(12, xMajor), axisLabel: {show: false}}),
    Object.assign({}, baseX, {position: 'top', axisLine: {show: false}, axisTick: tick(6, xMinor), axisLabel: {show: false}})
  ],
  yAxis: [
    Object.assign({}, baseY, {position: 'left', name: 'Altitude', nameLocation: 'middle', nameGap: 55, nameRotate: 90,
      nameTextStyle: {color: '#000', fontFamily: FONT, fontSize: 26},
      axisTick: tick(19, yMajor),
      axisLabel: {show: true, margin: 7, color: '#000', fontFamily: FONT, fontSize: 26, customValues: yMajor,
        rich: {top: {fontFamily: FONT, fontSize: 26, color: '#000', padding: [12, 0, 0, 0]}},
        formatter: v => (Math.round(v) === 18 ? '{top|18}' : String(Math.round(v)))}}),
    Object.assign({}, baseY, {position: 'left', axisLine: {show: false}, axisTick: tick(10, yMinor), axisLabel: {show: false}}),
    Object.assign({}, baseY, {position: 'right', axisTick: tick(19, yMajor), axisLabel: {show: false}}),
    Object.assign({}, baseY, {position: 'right', axisLine: {show: false}, axisTick: tick(10, yMinor), axisLabel: {show: false}})
  ],
  series: series
};
echarts.init(document.getElementById('c'), null, {renderer: 'canvas'}).setOption(option);
</script>
</body>
</html>
